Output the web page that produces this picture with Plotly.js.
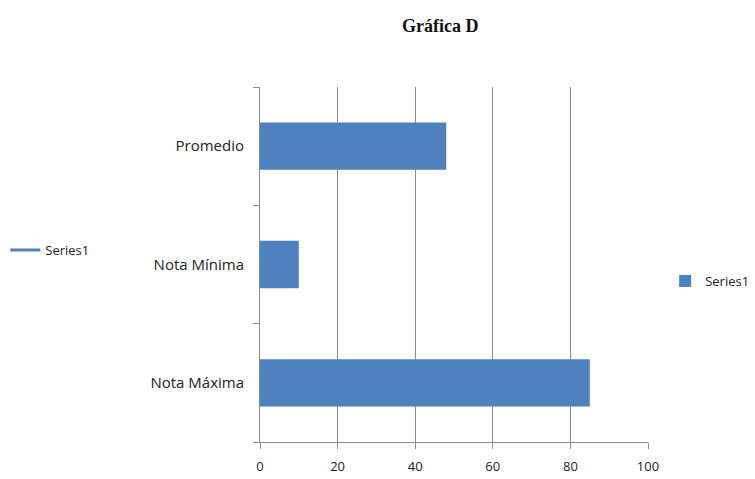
<!DOCTYPE html>
<html>
<head>
<meta charset="utf-8">
<script src="https://cdn.plot.ly/plotly-3.0.1.min.js"></script>
<style>
  html, body { margin: 0; padding: 0; background: #fff; }
  #chart { width: 755px; height: 479px; }
</style>
</head>
<body>
<div id="chart"></div>
<script>
// categories bottom to top, as Excel draws them
const categories = ["Nota Máxima", "Nota Mínima", "Promedio"]
const series1 = [85, 10, 48]
const xTicks = [0, 20, 40, 60, 80, 100]

const grey = "#8c8c8c"
const blue = "#4f81bd"

const traces = [
  {
    type: "bar",
    orientation: "h",
    name: "Series1",
    y: categories,
    x: series1,
    width: 0.4,
    marker: { color: blue },
    legend: "legend",
    hoverinfo: "x+y",
  },
  // line entry shown on the left legend only
  {
    type: "scatter",
    mode: "lines",
    name: "Series1",
    x: [null],
    y: [null],
    line: { color: blue, width: 3 },
    legend: "legend2",
    showlegend: true,
  },
]

const layout = {
  width: 755,
  height: 479,
  paper_bgcolor: "#fff",
  plot_bgcolor: "#fff",
  margin: { l: 260, r: 107, t: 87, b: 37 },
  font: { family: "'Open Sans', sans-serif", size: 13, color: "#222" },
  title: {
    text: "<b>Gráfica D</b>",
    font: { family: "'Liberation Serif', 'DejaVu Serif', serif", size: 18, color: "#111" },
    x: 0.583,
    xanchor: "center",
    y: 0.947,
    yanchor: "middle",
  },
  xaxis: {
    range: [0, 100],
    tickvals: xTicks,
    ticks: "outside",
    ticklen: 6,
    tickcolor: grey,
    ticklabelstandoff: 6,
    showgrid: true,
    gridcolor: grey,
    gridwidth: 1,
    showline: true,
    linecolor: grey,
    linewidth: 1,
    zeroline: false,
    tickfont: { size: 13 },
    fixedrange: true,
  },
  yaxis: {
    type: "category",
    categoryorder: "array",
    categoryarray: categories,
    ticks: "outside",
    tickson: "boundaries",
    ticklen: 6,
    tickcolor: grey,
    ticklabelstandoff: 12,
    showline: true,
    linecolor: grey,
    linewidth: 1,
    showgrid: false,
    zeroline: false,
    tickfont: { size: 15 },
    fixedrange: true,
  },
  showlegend: true,
  legend: {
    xref: "container",
    yref: "container",
    x: 0.881,
    xanchor: "left",
    y: 0.413,
    yanchor: "middle",
    bgcolor: "rgba(0,0,0,0)",
    font: { size: 13 },
  },
  legend2: {
    xref: "container",
    yref: "container",
    x: 0.007,
    xanchor: "left",
    y: 0.478,
    yanchor: "middle",
    bgcolor: "rgba(0,0,0,0)",
    font: { size: 13 },
  },
}

Plotly.newPlot("chart", traces, layout, { displayModeBar: false, staticPlot: true })
</script>
</body>
</html>
